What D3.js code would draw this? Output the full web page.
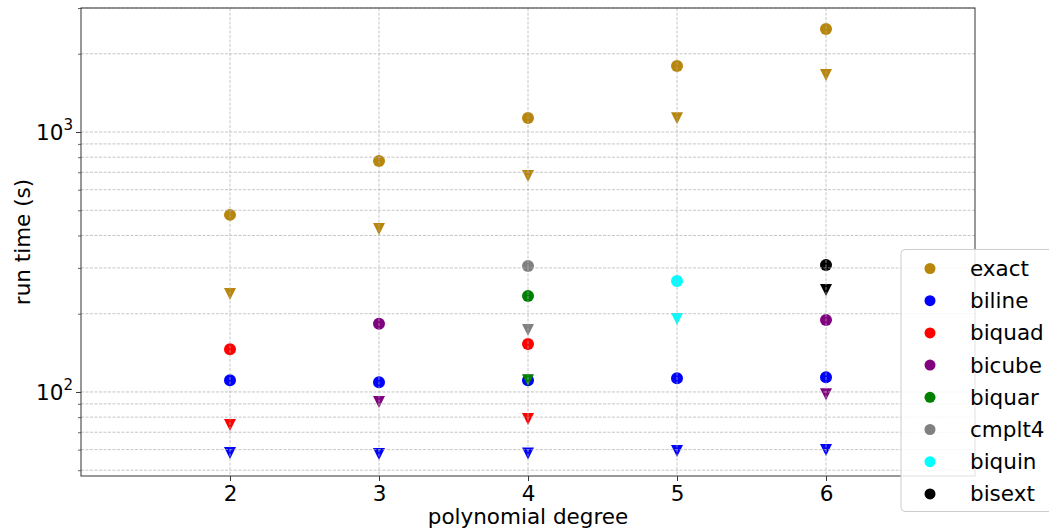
<!DOCTYPE html>
<html>
<head>
<meta charset="utf-8">
<script src="https://cdn.jsdelivr.net/npm/d3@7"></script>
<style>
  html, body { margin: 0; padding: 0; background: #fff; }
  svg { display: block; }
  text { font-family: "DejaVu Sans", sans-serif; fill: #000; }
</style>
</head>
<body>
<svg id="chart" width="1049" height="529"></svg>
<script>
// Polynomial degrees on the x axis
const degrees = [2, 3, 4, 5, 6];

// Methods (legend order) and their colours
const methods = ["exact", "biline", "biquad", "bicube", "biquar", "cmplt4", "biquin", "bisext"];
const colors = ["#b8860b", "#0000ff", "#ff0000", "#800080", "#008000", "#808080", "#00ffff", "#000000"];

// Run times (s): circles = total time, triangles = second measurement; null = not run
const exactCircle   = [480, 774, 1132, 1795, 2490];
const exactTri      = [238, 424, 677, 1130, 1656];
const bilineCircle  = [111, 109, 111, 113, 114];
const bilineTri     = [58.2, 57.7, 58.0, 59.3, 59.8];
const biquadCircle  = [146, null, 153, null, null];
const biquadTri     = [74.6, null, 78.7, null, null];
const bicubeCircle  = [null, 183, null, null, 189];
const bicubeTri     = [null, 91.5, null, null, 98];
const biquarCircle  = [null, null, 234, null, null];
const biquarTri     = [null, null, 111, null, null];
const cmplt4Circle  = [null, null, 305, null, null];
const cmplt4Tri     = [null, null, 173, null, null];
const biquinCircle  = [null, null, null, 267, null];
const biquinTri     = [null, null, null, 191, null];
const bisextCircle  = [null, null, null, null, 308];
const bisextTri     = [null, null, null, null, 247];

const circleSeries = [exactCircle, bilineCircle, biquadCircle, bicubeCircle, biquarCircle, cmplt4Circle, biquinCircle, bisextCircle];
const triSeries    = [exactTri, bilineTri, biquadTri, bicubeTri, biquarTri, cmplt4Tri, biquinTri, bisextTri];

// Axis tick values
const xTicks = [2, 3, 4, 5, 6];
const yMajor = [100, 1000];
const yMinor = [50, 60, 70, 80, 90, 200, 300, 400, 500, 600, 700, 800, 900, 2000, 3000];

const svg = d3.select("#chart");
const plotLeft = 81, plotRight = 975, plotTop = 8, plotBottom = 476;
const fontSize = 21.5;

const x = d3.scaleLinear().domain([1, 7]).range([plotLeft, plotRight]);
const y = d3.scaleLog().domain([47.5, 3000]).range([plotBottom, plotTop]);

// Markers
const plot = svg.append("g");
const rC = 6, rT = 6;
const tri = d3.line()([[-rT, -rT], [rT, -rT], [0, rT]]) + "Z";

methods.forEach((m, i) => {
  const pts = degrees.map((d, k) => ({ d, v: circleSeries[i][k] })).filter(p => p.v != null);
  plot.selectAll(null).data(pts).join("circle")
    .attr("cx", p => x(p.d)).attr("cy", p => y(p.v)).attr("r", rC)
    .attr("fill", colors[i]);
  const tps = degrees.map((d, k) => ({ d, v: triSeries[i][k] })).filter(p => p.v != null);
  plot.selectAll(null).data(tps).join("path")
    .attr("transform", p => `translate(${x(p.d)},${y(p.v)})`)
    .attr("d", tri).attr("fill", colors[i]);
});

// Grid drawn over the markers
const grid = svg.append("g")
  .attr("stroke", "#b0b0b0").attr("stroke-width", 0.8)
  .attr("stroke-dasharray", "3,1.5").attr("stroke-opacity", 0.9);
grid.selectAll(null).data(xTicks).join("line")
  .attr("x1", d => x(d)).attr("x2", d => x(d)).attr("y1", plotTop).attr("y2", plotBottom);
grid.selectAll(null).data(yMajor.concat(yMinor)).join("line")
  .attr("x1", plotLeft).attr("x2", plotRight).attr("y1", d => y(d)).attr("y2", d => y(d));

// Axes
const xAxis = svg.append("g").attr("transform", `translate(0,${plotBottom})`)
  .call(d3.axisBottom(x).tickValues(xTicks).tickSize(5).tickPadding(5).tickFormat(d3.format("d")));
xAxis.select(".domain").remove();
xAxis.selectAll("text").attr("font-size", fontSize).attr("font-family", "DejaVu Sans").attr("fill", "#000");
xAxis.selectAll("line").attr("stroke", "#000").attr("stroke-width", 0.8);

const yAxis = svg.append("g").attr("transform", `translate(${plotLeft},0)`)
  .call(d3.axisLeft(y).tickValues(yMajor).tickSize(5).tickFormat(""));
yAxis.select(".domain").remove();
yAxis.selectAll("line").attr("stroke", "#000").attr("stroke-width", 0.8);
const yMinorAxis = svg.append("g").attr("transform", `translate(${plotLeft},0)`)
  .call(d3.axisLeft(y).tickValues(yMinor).tickSize(3).tickFormat(""));
yMinorAxis.select(".domain").remove();
yMinorAxis.selectAll("line").attr("stroke", "#000").attr("stroke-width", 0.6);

// Power-of-ten labels
yMajor.forEach(v => {
  const t = svg.append("text")
    .attr("x", plotLeft - 8).attr("y", y(v) + 8)
    .attr("text-anchor", "end").attr("font-size", fontSize);
  t.append("tspan").text("10");
  t.append("tspan").attr("font-size", fontSize * 0.7).attr("dy", -10).text(Math.round(Math.log10(v)));
});

// Frame
svg.append("rect").attr("x", plotLeft).attr("y", plotTop)
  .attr("width", plotRight - plotLeft).attr("height", plotBottom - plotTop)
  .attr("fill", "none").attr("stroke", "#333").attr("stroke-width", 1);

// Axis titles
svg.append("text").attr("x", (plotLeft + plotRight) / 2).attr("y", 524)
  .attr("text-anchor", "middle").attr("font-size", fontSize).text("polynomial degree");
svg.append("text").attr("transform", `translate(30,${(plotTop + plotBottom) / 2}) rotate(-90)`)
  .attr("text-anchor", "middle").attr("font-size", fontSize).text("run time (s)");

// Legend
const lg = svg.append("g").attr("transform", "translate(901,249.5)");
lg.append("rect").attr("x", 0).attr("y", 0).attr("width", 170).attr("height", 262)
  .attr("rx", 4).attr("fill", "#fff").attr("fill-opacity", 0.85)
  .attr("stroke", "#cccccc").attr("stroke-width", 1);
methods.forEach((m, i) => {
  const cy = 19 + i * 32.2;
  lg.append("circle").attr("cx", 29).attr("cy", cy).attr("r", 5.5).attr("fill", colors[i]);
  lg.append("text").attr("x", 69).attr("y", cy + 7.5).attr("font-size", fontSize).text(m);
});
</script>
</body>
</html>
